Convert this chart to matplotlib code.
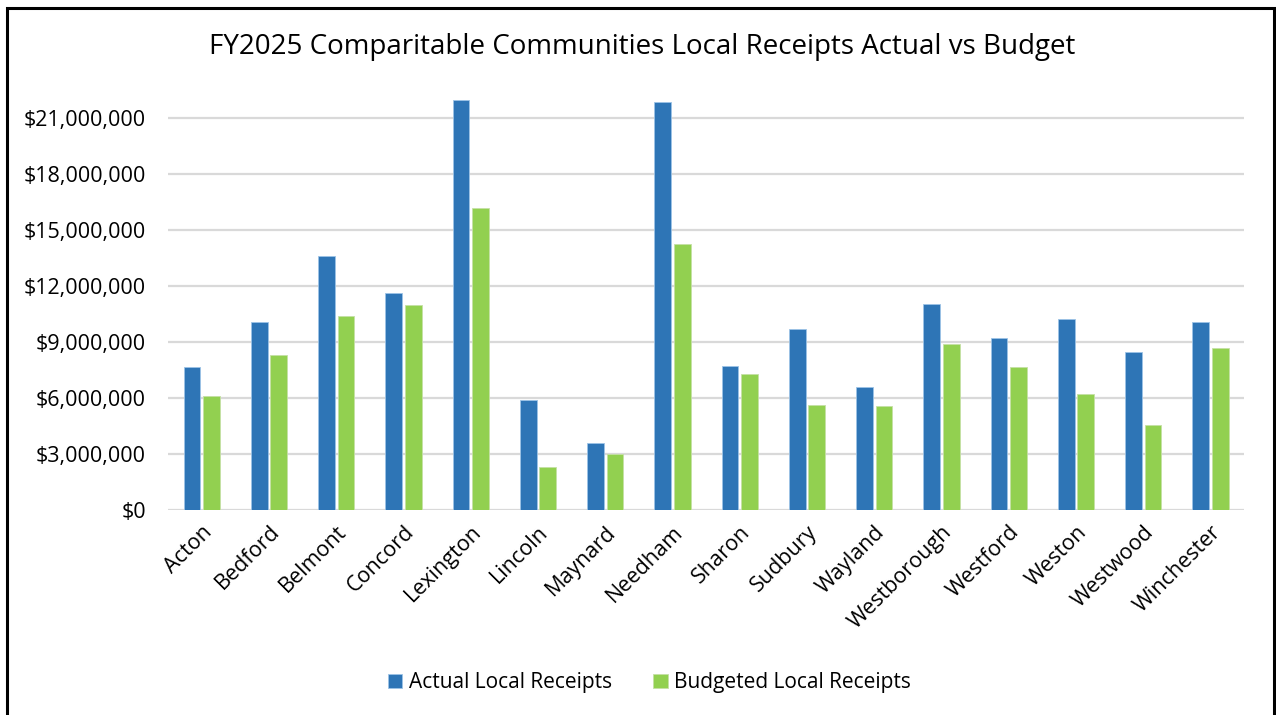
import matplotlib.pyplot as plt
import numpy as np
from matplotlib.patches import Rectangle
from matplotlib.ticker import FuncFormatter, MultipleLocator

plt.rcParams['font.family'] = ['Open Sans', 'DejaVu Sans']

# Local receipts per community, FY2025
towns = ['Acton', 'Bedford', 'Belmont', 'Concord', 'Lexington', 'Lincoln',
         'Maynard', 'Needham', 'Sharon', 'Sudbury', 'Wayland', 'Westborough',
         'Westford', 'Weston', 'Westwood', 'Winchester']
actual = [7.66e6, 10.10e6, 13.60e6, 11.62e6, 22.0e6, 5.93e6,
          3.59e6, 21.85e6, 7.71e6, 9.73e6, 6.62e6, 11.03e6,
          9.25e6, 10.25e6, 8.48e6, 10.07e6]
budgeted = [6.14e6, 8.32e6, 10.41e6, 11.00e6, 16.18e6, 2.30e6,
            3.02e6, 14.28e6, 7.30e6, 5.64e6, 5.60e6, 8.91e6,
            7.68e6, 6.21e6, 4.55e6, 8.71e6]

blue = '#2E75B6'
green = '#92D050'

fig = plt.figure(figsize=(12.76, 7.15), dpi=100)
ax = fig.add_axes([0.1317, 0.2863, 0.975 - 0.1317, 0.5744])

x = np.arange(len(towns))
w = 0.25
ax.bar(x - 0.145, actual, width=w, color=blue, edgecolor='#9DC3E6',
       linewidth=0.6, label='Actual Local Receipts', zorder=3)
ax.bar(x + 0.145, budgeted, width=w, color=green, edgecolor='#C5E0A5',
       linewidth=0.6, label='Budgeted Local Receipts', zorder=3)

ax.set_xlim(-0.5, len(towns) - 0.5)
ax.set_ylim(0, 22.0e6)
ax.yaxis.set_major_locator(MultipleLocator(3e6))
ax.yaxis.set_major_formatter(FuncFormatter(lambda v, p: f'${v:,.0f}'))
ax.grid(axis='y', color='#D9D9D9', linewidth=1.6, zorder=0)
for s in ax.spines.values():
    s.set_visible(False)
ax.tick_params(axis='both', length=0, labelsize=15.5, colors='black')
ax.tick_params(axis='y', pad=16)
ax.set_xticks(x)
ax.set_xticklabels(towns, rotation=45, ha='right', rotation_mode='anchor')
ax.tick_params(axis='x', pad=8)

fig.text(0.503, 0.934, 'FY2025 Comparitable Communities Local Receipts Actual vs Budget',
         ha='center', va='center', fontsize=20)

fig.legend(loc='center', bbox_to_anchor=(0.509, 0.045), ncol=2, frameon=False,
           fontsize=15, handlelength=0.7, handleheight=0.7,
           handletextpad=0.3, columnspacing=2.0)

# outer chart border (bottom edge runs off the canvas)
fig.patches.append(Rectangle((7 / 1276, -0.1), 1267 / 1276, 1.1 - 8 / 715,
                             transform=fig.transFigure, fill=False,
                             edgecolor='black', linewidth=2.2, clip_on=False))

fig.savefig('out.png', dpi=100)
